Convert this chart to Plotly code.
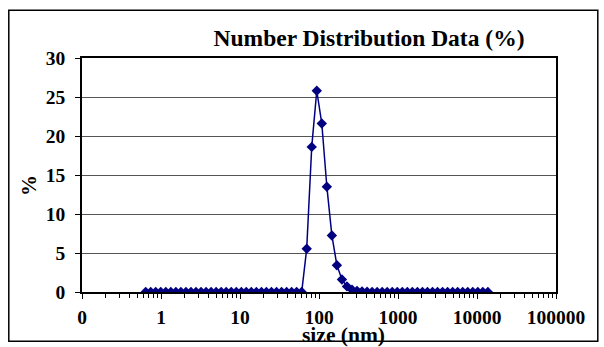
import plotly.graph_objects as go

# size classes (nm)
sizes = [0.640, 0.741, 0.857, 0.993, 1.150, 1.332, 1.542, 1.786, 2.069, 2.396,
         2.775, 3.214, 3.722, 4.31, 4.99, 5.78, 6.69, 7.75, 8.98, 10.4,
         12.0, 13.9, 16.1, 18.7, 21.6, 25.0, 29.0, 33.6, 38.9, 45.0,
         52.1, 60.4, 69.9, 80.9, 93.7, 108.5, 125.7, 145.5, 168.5, 195.1,
         225.9, 261.6, 302.9, 350.8, 406.2, 470.4, 544.7, 630.7, 730.3, 845.7,
         979.3, 1134, 1313, 1520, 1761, 2039, 2361, 2734, 3166, 3666,
         4245, 4916, 5692, 6592, 7633, 8839, 10235, 11852, 13724]

# number distribution (%)
percent = [0, 0, 0, 0, 0, 0, 0, 0, 0, 0,
           0, 0, 0, 0, 0, 0, 0, 0, 0, 0,
           0, 0, 0, 0, 0, 0, 0, 0, 0, 0,
           0, 0, 5.55, 18.6, 25.8, 21.6, 13.5, 7.25, 3.43, 1.6,
           0.72, 0.3, 0.15, 0.07, 0.03, 0, 0, 0, 0, 0,
           0, 0, 0, 0, 0, 0, 0, 0, 0, 0,
           0, 0, 0, 0, 0, 0, 0, 0, 0]

x_tickvals = [0.1, 1, 10, 100, 1000, 10000, 100000]
x_ticktext = ["0", "1", "10", "100", "1000", "10000", "100000"]
y_tickvals = [0, 5, 10, 15, 20, 25, 30]
minor_vals = [m * d for d in [0.1, 1, 10, 100, 1000, 10000] for m in range(2, 10)]

title_text = "Number Distribution Data (%)"
x_title = "size (nm)"
y_title = "%"

FONT = "Liberation Serif"
NAVY = "#000080"

fig = go.Figure()
fig.add_trace(go.Scatter(
    x=sizes, y=percent, mode="lines+markers",
    line=dict(color=NAVY, width=1.5),
    marker=dict(symbol="diamond", size=8, color=NAVY),
    showlegend=False,
))

L, R, T, B = 81.7, 555.7, 58.3, 292.3
W, H = 604, 347
pw, ph = R - L, B - T

def px(x):
    return (x - L) / pw

def py(y):
    return (B - y) / ph

fig.update_layout(
    width=W, height=H,
    margin=dict(l=L, r=W - R, t=T, b=H - B, pad=0),
    paper_bgcolor="white", plot_bgcolor="white",
    font=dict(family=FONT, size=19.5, color="black"),
    title=dict(text="<b>" + title_text + "</b>", x=369 / W, xanchor="center",
               y=1 - 38 / H, yanchor="middle",
               font=dict(family=FONT, size=23.5, color="black")),
    xaxis=dict(
        type="log", range=[-1, 5],
        tickmode="array", tickvals=x_tickvals, ticktext=["<b>%s</b>" % t for t in x_ticktext],
        ticks="outside", ticklen=5, tickcolor="black", tickwidth=1,
        minor=dict(tickmode="array", tickvals=minor_vals, ticks="outside", ticklen=4,
                   tickcolor="black", tickwidth=1, showgrid=False),
        showgrid=False, showline=True, linecolor="black", linewidth=1.5, mirror=True,
        zeroline=False, ticklabelstandoff=2,
    ),
    yaxis=dict(
        range=[0, 30], tickmode="array", tickvals=y_tickvals,
        ticktext=["<b>%d</b>" % v for v in y_tickvals],
        ticks="outside", ticklen=5, tickcolor="black", tickwidth=1,
        showgrid=True, gridcolor="#555555", gridwidth=1,
        showline=True, linecolor="black", linewidth=1.5, mirror=True,
        zeroline=False, ticklabelstandoff=6,
    ),
)

fig.add_annotation(text="<b>" + x_title + "</b>", xref="paper", yref="paper",
                   x=px(343), y=py(335), xanchor="center", yanchor="middle",
                   showarrow=False, font=dict(family=FONT, size=21.5, color="black"))
fig.add_annotation(text="<b>" + y_title + "</b>", xref="paper", yref="paper",
                   x=px(28), y=py(186), xanchor="center", yanchor="middle", textangle=-90,
                   showarrow=False, font=dict(family=FONT, size=21, color="black"))

fig.add_shape(type="rect", xref="paper", yref="paper",
              x0=px(8.5), x1=px(597.5), y0=py(341.5), y1=py(10.5),
              line=dict(color="black", width=1.5), fillcolor="rgba(0,0,0,0)", layer="below")

fig.write_html("out.html", config={"displayModeBar": False},
               post_script="document.body.style.margin='0';")
